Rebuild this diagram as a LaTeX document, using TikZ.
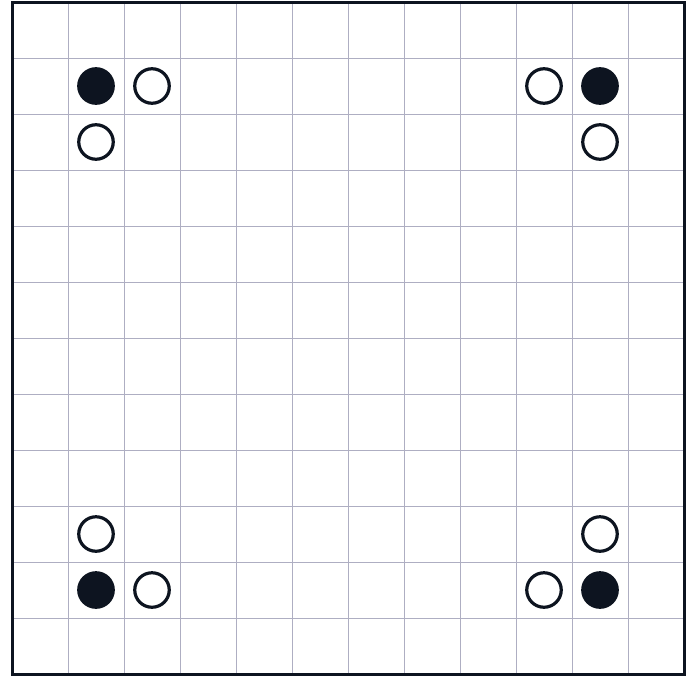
\documentclass[tikz,border=0pt]{standalone}
\usepackage{tikz}
\usetikzlibrary{positioning}
\definecolor{ink}{HTML}{0D1420}
\definecolor{gridline}{HTML}{AEAEC2}

\begin{document}
\begin{tikzpicture}[
    x=56pt, y=-56pt,
    stone/.style={
        circle,
        draw=ink,
        line width=3.2pt,
        minimum size=34.5pt,
        inner sep=0pt
    },
    blackstone/.style={stone, fill=ink},
    whitestone/.style={stone, fill=white},
    board/.style={draw=ink, line width=3pt},
    thin grid/.style={draw=gridline, line width=1pt}
]

\useasboundingbox (-0.2143,-0.0357) rectangle (12.125,12.018);

% GRID
\foreach \k in {1,...,11} {
    \draw[thin grid] (\k,0) -- (\k,12);
    \draw[thin grid] (0,\k) -- (12,\k);
}
\draw[board] (0,0) rectangle (12,12);

% TOP LEFT
\node[blackstone] (tl) at (1.5,1.5) {};
\node[whitestone] (tlr) at (2.5,1.5) {};
\node[whitestone] (tlb) at (1.5,2.5) {};

% TOP RIGHT
\node[blackstone] (tr) at (10.5,1.5) {};
\node[whitestone] (trl) at (9.5,1.5) {};
\node[whitestone] (trb) at (10.5,2.5) {};

% BOTTOM LEFT
\node[blackstone] (bl) at (1.5,10.5) {};
\node[whitestone] (blr) at (2.5,10.5) {};
\node[whitestone] (bla) at (1.5,9.5) {};

% BOTTOM RIGHT
\node[blackstone] (br) at (10.5,10.5) {};
\node[whitestone] (brl) at (9.5,10.5) {};
\node[whitestone] (bra) at (10.5,9.5) {};

\end{tikzpicture}
\end{document}
